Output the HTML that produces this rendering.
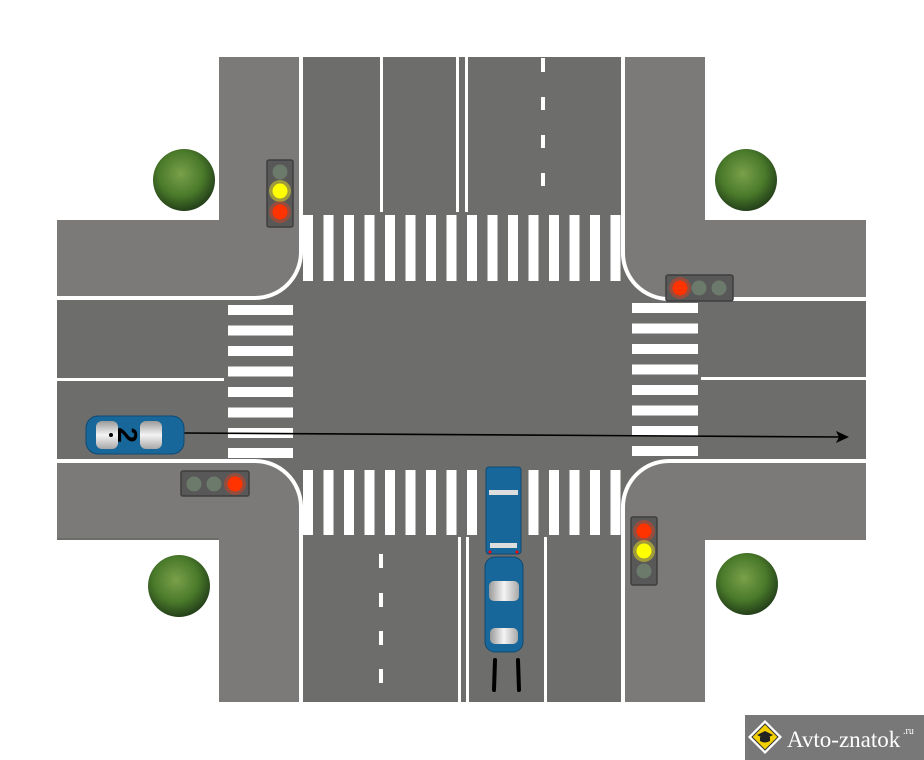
<!DOCTYPE html>
<html><head><meta charset="utf-8"><style>
html,body{margin:0;padding:0;background:#fff;}
svg{display:block;}
</style></head><body>
<svg width="924" height="760" viewBox="0 0 924 760" xmlns="http://www.w3.org/2000/svg">
<defs>
<radialGradient id="tree" cx="45%" cy="40%" r="60%">
<stop offset="0" stop-color="#7aa04a"/><stop offset="0.6" stop-color="#4a7a2a"/><stop offset="1" stop-color="#24401a"/>
</radialGradient>
<linearGradient id="win" x1="0" y1="0" x2="1" y2="0">
<stop offset="0" stop-color="#9a9a9a"/><stop offset="0.5" stop-color="#f4f4f4"/><stop offset="1" stop-color="#a8a8a8"/>
</linearGradient>
<linearGradient id="winv" x1="0" y1="0" x2="0" y2="1">
<stop offset="0" stop-color="#9a9a9a"/><stop offset="0.5" stop-color="#f4f4f4"/><stop offset="1" stop-color="#a8a8a8"/>
</linearGradient>
</defs>
<rect width="924" height="760" fill="#fff"/>
<rect x="219" y="57" width="486" height="645" fill="#6d6d6b"/>
<rect x="57" y="220" width="809" height="320" fill="#6d6d6b"/>
<g fill="#7b7a78">
<path d="M219,57 H300 V252 A45,45 0 0 1 255,297 H57 V220 H219 Z"/>
<path d="M705,57 H624 V252 A45,45 0 0 0 669,298 H866 V220 H705 Z"/>
<path d="M219,702 H300 V506 A45,45 0 0 0 255,461 H57 V538 H219 Z"/>
<path d="M705,702 H624 V506 A45,45 0 0 1 669,461 H866 V540 H705 Z"/>
</g>
<g fill="none" stroke="#fff" stroke-width="4">
<path d="M301,57 V252 A46,46 0 0 1 255,298 H57"/>
<path d="M623,57 V252 A46,46 0 0 0 669,299 H866"/>
<path d="M301,702 V506 A46,46 0 0 0 255,461 H57"/>
<path d="M623,702 V506 A46,46 0 0 1 669,461 H866"/>
</g>
<g fill="#fff">
<rect x="380" y="57" width="3" height="155"/>
<rect x="456" y="57" width="3" height="155"/>
<rect x="465" y="57" width="3" height="155"/>
<rect x="541" y="58" width="4" height="14"/>
<rect x="541" y="97" width="4" height="13"/>
<rect x="541" y="135" width="4" height="13"/>
<rect x="541" y="173" width="4" height="13"/>
<rect x="379" y="554" width="4" height="14"/>
<rect x="379" y="593" width="4" height="14"/>
<rect x="379" y="631" width="4" height="14"/>
<rect x="379" y="669" width="4" height="14"/>
<rect x="458" y="537" width="3" height="165"/>
<rect x="466" y="537" width="3" height="165"/>
<rect x="544" y="537" width="3" height="165"/>
<rect x="57" y="378" width="167" height="3"/>
<rect x="701" y="377" width="165" height="3"/>
</g>
<g fill="#fff">
<rect x="303" y="215" width="10" height="66"/><rect x="323.5" y="215" width="10" height="66"/><rect x="344" y="215" width="10" height="66"/><rect x="364.5" y="215" width="10" height="66"/><rect x="385" y="215" width="10" height="66"/><rect x="405.5" y="215" width="10" height="66"/><rect x="426" y="215" width="10" height="66"/><rect x="446.5" y="215" width="10" height="66"/><rect x="467" y="215" width="10" height="66"/><rect x="487.5" y="215" width="10" height="66"/><rect x="508" y="215" width="10" height="66"/><rect x="528.5" y="215" width="10" height="66"/><rect x="549" y="215" width="10" height="66"/><rect x="569.5" y="215" width="10" height="66"/><rect x="590" y="215" width="10" height="66"/><rect x="610.5" y="215" width="10" height="66"/>
<rect x="303" y="470" width="10" height="65"/><rect x="323.5" y="470" width="10" height="65"/><rect x="344" y="470" width="10" height="65"/><rect x="364.5" y="470" width="10" height="65"/><rect x="385" y="470" width="10" height="65"/><rect x="405.5" y="470" width="10" height="65"/><rect x="426" y="470" width="10" height="65"/><rect x="446.5" y="470" width="10" height="65"/><rect x="467" y="470" width="10" height="65"/><rect x="487.5" y="470" width="10" height="65"/><rect x="508" y="470" width="10" height="65"/><rect x="528.5" y="470" width="10" height="65"/><rect x="549" y="470" width="10" height="65"/><rect x="569.5" y="470" width="10" height="65"/><rect x="590" y="470" width="10" height="65"/><rect x="610.5" y="470" width="10" height="65"/>
<rect x="228" y="305" width="65" height="10"/><rect x="228" y="325.5" width="65" height="10"/><rect x="228" y="346" width="65" height="10"/><rect x="228" y="366.5" width="65" height="10"/><rect x="228" y="387" width="65" height="10"/><rect x="228" y="407.5" width="65" height="10"/><rect x="228" y="428" width="65" height="10"/><rect x="228" y="448" width="65" height="10"/>
<rect x="632" y="303" width="66" height="10"/><rect x="632" y="323.5" width="66" height="10"/><rect x="632" y="344" width="66" height="10"/><rect x="632" y="364.5" width="66" height="10"/><rect x="632" y="385" width="66" height="10"/><rect x="632" y="405.5" width="66" height="10"/><rect x="632" y="426" width="66" height="10"/><rect x="632" y="446" width="66" height="10"/>
</g>
<g>
<circle cx="184" cy="180" r="31" fill="url(#tree)"/>
<circle cx="746" cy="180" r="31" fill="url(#tree)"/>
<circle cx="179" cy="586" r="31" fill="url(#tree)"/>
<circle cx="747" cy="584" r="31" fill="url(#tree)"/>
</g>
<g stroke="#3e3e3e" stroke-width="1.5">
<rect x="267" y="160" width="26" height="67" rx="2" fill="#585858"/>
<rect x="666" y="275" width="67" height="26" rx="2" fill="#585858"/>
<rect x="181" y="471" width="68" height="25" rx="2" fill="#585858"/>
<rect x="631" y="517" width="26" height="68" rx="2" fill="#585858"/>
</g>
<g stroke="none">
<circle cx="280" cy="191" r="11" fill="#e8e020" opacity="0.5"/>
<circle cx="280" cy="212" r="11" fill="#e04020" opacity="0.45"/>
<circle cx="680" cy="288" r="11" fill="#e04020" opacity="0.45"/>
<circle cx="235" cy="484" r="11" fill="#e04020" opacity="0.45"/>
<circle cx="644" cy="531" r="11" fill="#e04020" opacity="0.45"/>
<circle cx="644" cy="551" r="11" fill="#e8e020" opacity="0.5"/>
<circle cx="280" cy="172" r="7.5" fill="#6c7a6c"/>
<circle cx="280" cy="191" r="7.5" fill="#ffff00"/>
<circle cx="280" cy="212" r="7.5" fill="#ff3300"/>
<circle cx="680" cy="288" r="7.5" fill="#ff3300"/>
<circle cx="699" cy="288" r="7.5" fill="#6c7a6c"/>
<circle cx="719" cy="288" r="7.5" fill="#6c7a6c"/>
<circle cx="194" cy="484" r="7.5" fill="#6c7a6c"/>
<circle cx="214" cy="484" r="7.5" fill="#6c7a6c"/>
<circle cx="235" cy="484" r="7.5" fill="#ff3300"/>
<circle cx="644" cy="531" r="7.5" fill="#ff3300"/>
<circle cx="644" cy="551" r="7.5" fill="#ffff00"/>
<circle cx="644" cy="571" r="7.5" fill="#6c7a6c"/>
</g>
<line x1="184" y1="433" x2="842" y2="437" stroke="#000" stroke-width="1.6"/>
<path d="M849,437 L836,431 L839,437 L836,443 Z" fill="#000"/>
<rect x="86" y="416" width="98" height="38" rx="12" fill="#17679b" stroke="#0f4a70" stroke-width="1"/>
<rect x="96" y="421" width="22" height="28" rx="6" fill="url(#winv)"/>
<rect x="140" y="421" width="22" height="28" rx="6" fill="url(#winv)"/>
<rect x="118" y="422" width="22" height="26" fill="#17679b"/>
<circle cx="111" cy="435" r="2" fill="#000"/>
<text x="128" y="445" transform="rotate(90 128 435)" text-anchor="middle" font-family="Liberation Sans, sans-serif" font-weight="bold" font-size="28" fill="#000">2</text>
<rect x="486" y="467" width="35" height="87" rx="3" fill="#17679b" stroke="#0f4a70"/>
<rect x="489" y="490" width="29" height="5" fill="#ddd"/>
<rect x="490" y="543" width="27" height="5" fill="#ddd"/>
<circle cx="490" cy="552" r="1.5" fill="#f00"/><circle cx="517" cy="552" r="1.5" fill="#f00"/>
<rect x="485" y="557" width="38" height="95" rx="10" fill="#17679b" stroke="#0f4a70"/>
<rect x="489" y="581" width="30" height="20" rx="5" fill="url(#win)"/>
<rect x="490" y="628" width="28" height="16" rx="5" fill="url(#win)"/>
<path d="M495,660 L494,690" stroke="#000" stroke-width="4" stroke-linecap="round"/>
<path d="M518,660 L519,690" stroke="#000" stroke-width="4" stroke-linecap="round"/>
<rect x="745" y="715" width="179" height="45" fill="#787878"/>
<path d="M765,720 L782,737 L765,754 L748,737 Z" fill="#fff"/>
<path d="M765,724 L778,737 L765,750 L752,737 Z" fill="#f2d000" stroke="#333" stroke-width="1"/>
<path d="M757,735 L765,731 L773,735 L765,739 Z" fill="#222"/>
<path d="M760,737 V741 Q765,744 770,741 V737" fill="#222"/>
<text x="787" y="747" font-family="Liberation Serif, serif" font-size="23" fill="#fff">Avto-znatok</text>
<text x="903" y="734" font-family="Liberation Serif, serif" font-size="10" fill="#fff">.ru</text>
</svg>
</body></html>
